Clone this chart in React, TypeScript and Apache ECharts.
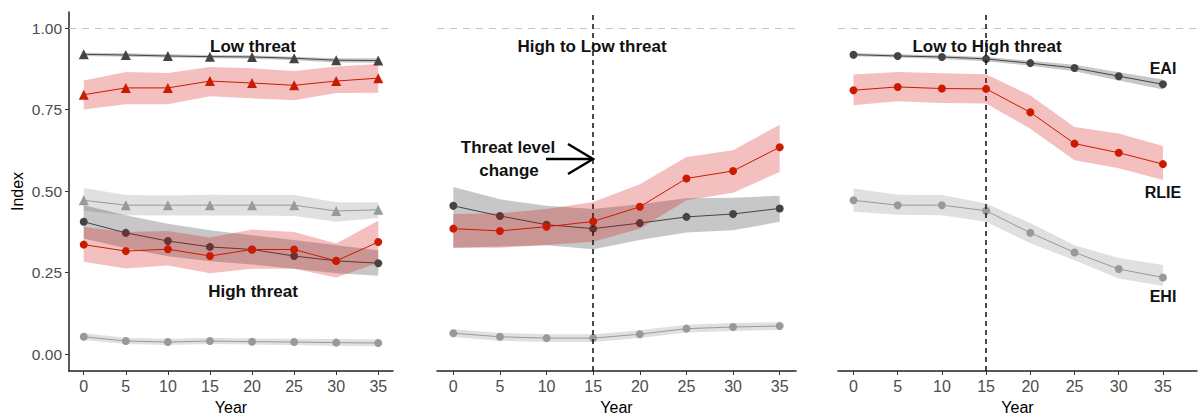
import React, { useEffect, useRef } from "react";
import * as echarts from "echarts";

const years = [0, 5, 10, 15, 20, 25, 30, 35];
const xTicks = [0, 5, 10, 15, 20, 25, 30, 35];
const yTicks = [0, 0.25, 0.5, 0.75, 1];

// Panel 1 – Low threat (triangles)
const lowEAI = [0.92, 0.918, 0.915, 0.913, 0.912, 0.908, 0.902, 0.901];
const lowEAILo = [0.915, 0.913, 0.91, 0.908, 0.907, 0.902, 0.895, 0.894];
const lowEAIHi = [0.925, 0.923, 0.92, 0.918, 0.917, 0.913, 0.908, 0.908];
const lowRLIE = [0.796, 0.817, 0.817, 0.838, 0.832, 0.825, 0.838, 0.847];
const lowRLIELo = [0.751, 0.767, 0.767, 0.791, 0.785, 0.779, 0.801, 0.802];
const lowRLIEHi = [0.84, 0.866, 0.863, 0.881, 0.877, 0.869, 0.883, 0.89];
const lowEHI = [0.472, 0.457, 0.457, 0.457, 0.457, 0.457, 0.439, 0.443];
const lowEHILo = [0.44, 0.426, 0.425, 0.425, 0.425, 0.424, 0.406, 0.418];
const lowEHIHi = [0.51, 0.488, 0.487, 0.489, 0.488, 0.488, 0.466, 0.465];

// Panel 1 – High threat (circles)
const highEAI = [0.406, 0.372, 0.347, 0.329, 0.321, 0.301, 0.286, 0.279];
const highEAILo = [0.355, 0.325, 0.3, 0.285, 0.275, 0.262, 0.248, 0.24];
const highEAIHi = [0.457, 0.426, 0.4, 0.38, 0.365, 0.35, 0.334, 0.319];
const highRLIE = [0.336, 0.316, 0.322, 0.301, 0.321, 0.321, 0.286, 0.344];
const highRLIELo = [0.283, 0.263, 0.272, 0.248, 0.262, 0.262, 0.235, 0.28];
const highRLIEHi = [0.39, 0.375, 0.378, 0.358, 0.382, 0.375, 0.339, 0.409];
const highEHI = [0.053, 0.04, 0.037, 0.04, 0.038, 0.037, 0.035, 0.034];
const highEHILo = [0.043, 0.031, 0.028, 0.031, 0.029, 0.028, 0.025, 0.024];
const highEHIHi = [0.064, 0.05, 0.047, 0.05, 0.048, 0.047, 0.046, 0.045];

// Panel 2 – High to Low threat
const h2lEAI = [0.455, 0.424, 0.397, 0.385, 0.402, 0.421, 0.43, 0.447];
const h2lEAILo = [0.326, 0.33, 0.334, 0.322, 0.35, 0.373, 0.38, 0.406];
const h2lEAIHi = [0.513, 0.475, 0.455, 0.445, 0.46, 0.478, 0.48, 0.486];
const h2lRLIE = [0.385, 0.378, 0.391, 0.407, 0.452, 0.539, 0.562, 0.635];
const h2lRLIELo = [0.326, 0.326, 0.335, 0.345, 0.385, 0.472, 0.495, 0.559];
const h2lRLIEHi = [0.43, 0.432, 0.445, 0.467, 0.521, 0.605, 0.626, 0.704];
const h2lEHI = [0.064, 0.053, 0.049, 0.049, 0.061, 0.078, 0.083, 0.086];
const h2lEHILo = [0.052, 0.041, 0.037, 0.037, 0.049, 0.066, 0.071, 0.074];
const h2lEHIHi = [0.076, 0.065, 0.061, 0.061, 0.073, 0.09, 0.095, 0.098];

// Panel 3 – Low to High threat
const l2hEAI = [0.919, 0.915, 0.912, 0.906, 0.893, 0.878, 0.853, 0.828];
const l2hEAILo = [0.914, 0.91, 0.906, 0.899, 0.885, 0.868, 0.84, 0.812];
const l2hEAIHi = [0.924, 0.92, 0.917, 0.912, 0.9, 0.888, 0.865, 0.843];
const l2hRLIE = [0.81, 0.82, 0.815, 0.814, 0.742, 0.646, 0.618, 0.583];
const l2hRLIELo = [0.764, 0.776, 0.771, 0.769, 0.692, 0.595, 0.57, 0.534];
const l2hRLIEHi = [0.858, 0.866, 0.862, 0.859, 0.794, 0.697, 0.677, 0.639];
const l2hEHI = [0.472, 0.457, 0.457, 0.44, 0.372, 0.312, 0.261, 0.235];
const l2hEHILo = [0.437, 0.428, 0.426, 0.406, 0.34, 0.288, 0.232, 0.209];
const l2hEHIHi = [0.508, 0.489, 0.488, 0.462, 0.402, 0.334, 0.295, 0.273];

const COL_EAI = "#444444";
const COL_RLIE = "#cc1a00";
const COL_EHI = "#999999";
const BAND_EAI = "#444444";
const BAND_RLIE = "#d40000";
const BAND_EHI = "#999999";
const FONT = '"Liberation Sans", Arial, Helvetica, sans-serif';

function band(idx: number, lo: number[], hi: number[], color: string, z: number, opacity = 0.3) {
  return {
    type: "custom",
    xAxisIndex: idx,
    yAxisIndex: idx,
    z,
    silent: true,
    data: years.map((y, i) => [y, lo[i], hi[i]]),
    encode: { x: 0, y: [1, 2] },
    renderItem: (params: any, api: any) => {
      if (params.dataIndex !== 0) return null;
      const pts: number[][] = [];
      for (let i = 0; i < years.length; i++) pts.push(api.coord([years[i], hi[i]]));
      for (let i = years.length - 1; i >= 0; i--) pts.push(api.coord([years[i], lo[i]]));
      return {
        type: "polygon",
        shape: { points: pts },
        style: { fill: color, opacity },
      };
    },
  };
}

function line(idx: number, vals: number[], color: string, symbol: string, z: number) {
  return {
    type: "line",
    xAxisIndex: idx,
    yAxisIndex: idx,
    z,
    silent: true,
    data: years.map((y, i) => [y, vals[i]]),
    symbol,
    symbolSize: symbol === "triangle" ? 10 : 8,
    lineStyle: { color, width: 1 },
    itemStyle: { color },
  };
}

function guides(idx: number, withVertical: boolean) {
  const data: any[] = [
    { yAxis: 1, lineStyle: { color: "#c4c4c4", type: [7, 6], width: 1 } },
  ];
  if (withVertical) {
    data.push({ xAxis: 15, lineStyle: { color: "#111", type: [5, 4], width: 1.5 } });
  }
  return {
    type: "line",
    xAxisIndex: idx,
    yAxisIndex: idx,
    data: [],
    z: 10,
    markLine: { silent: true, symbol: "none", label: { show: false }, data },
  };
}

function xAxisCfg(idx: number, max: number) {
  return {
    type: "value",
    gridIndex: idx,
    min: -1.75,
    max,
    name: "Year",
    nameLocation: "middle",
    nameGap: 28,
    nameTextStyle: { fontSize: 16, color: "#000", fontFamily: FONT },
    axisLine: { show: true, onZero: false, lineStyle: { color: "#222", width: 1.5 } },
    axisTick: { show: true, length: 4, customValues: xTicks, lineStyle: { color: "#333", width: 1 } },
    axisLabel: { customValues: xTicks, fontSize: 16, color: "#4d4d4d", margin: 7, fontFamily: FONT },
    splitLine: { show: false },
  };
}

function yAxisCfg(idx: number, visible: boolean) {
  return {
    type: "value",
    gridIndex: idx,
    min: -0.052,
    max: 1.05,
    show: visible,
    name: visible ? "Index" : "",
    nameLocation: "middle",
    nameGap: 44,
    nameTextStyle: { fontSize: 16, color: "#000", fontFamily: FONT },
    axisLine: { show: true, onZero: false, lineStyle: { color: "#222", width: 1.5 } },
    axisTick: { show: true, length: 4, customValues: yTicks, lineStyle: { color: "#333", width: 1 } },
    axisLabel: {
      customValues: yTicks,
      fontSize: 15.5,
      color: "#4d4d4d",
      margin: 7,
      fontFamily: FONT,
      formatter: (v: number) => v.toFixed(2),
    },
    splitLine: { show: false },
  };
}

function txt(text: string, x: number, y: number, size: number) {
  return {
    type: "text",
    x,
    y,
    z: 20,
    style: {
      text,
      fontSize: size,
      fontWeight: "bold",
      fontFamily: FONT,
      fill: "#111",
      align: "center",
      verticalAlign: "middle",
    },
  };
}

export default function App() {
  const ref = useRef<HTMLDivElement>(null);
  useEffect(() => {
    if (!ref.current) return;
    const chart = echarts.init(ref.current, null, { renderer: "svg" });
    chart.setOption({
      animation: false,
      backgroundColor: "#ffffff",
      grid: [
        { left: 69, top: 12, width: 324, height: 359, containLabel: false, outerBoundsMode: "none" },
        { left: 437, top: 12, width: 359, height: 359, containLabel: false, outerBoundsMode: "none" },
        { left: 838, top: 12, width: 359, height: 359, containLabel: false, outerBoundsMode: "none" },
      ],
      xAxis: [xAxisCfg(0, 36.75), xAxisCfg(1, 36.75), xAxisCfg(2, 38.85)],
      yAxis: [yAxisCfg(0, true), yAxisCfg(1, false), yAxisCfg(2, false)],
      series: [
        guides(0, false),
        guides(1, true),
        guides(2, true),
        // Panel 1 low threat
        band(0, lowEHILo, lowEHIHi, BAND_EHI, 1),
        line(0, lowEHI, COL_EHI, "triangle", 2),
        band(0, lowEAILo, lowEAIHi, BAND_EAI, 3),
        line(0, lowEAI, COL_EAI, "triangle", 4),
        band(0, lowRLIELo, lowRLIEHi, BAND_RLIE, 5, 0.25),
        line(0, lowRLIE, COL_RLIE, "triangle", 6),
        // Panel 1 high threat
        band(0, highEHILo, highEHIHi, BAND_EHI, 1),
        line(0, highEHI, COL_EHI, "circle", 2),
        band(0, highEAILo, highEAIHi, BAND_EAI, 3),
        line(0, highEAI, COL_EAI, "circle", 4),
        band(0, highRLIELo, highRLIEHi, BAND_RLIE, 5, 0.25),
        line(0, highRLIE, COL_RLIE, "circle", 6),
        // Panel 2
        band(1, h2lEHILo, h2lEHIHi, BAND_EHI, 1),
        line(1, h2lEHI, COL_EHI, "circle", 2),
        band(1, h2lEAILo, h2lEAIHi, BAND_EAI, 3),
        line(1, h2lEAI, COL_EAI, "circle", 4),
        band(1, h2lRLIELo, h2lRLIEHi, BAND_RLIE, 5, 0.25),
        line(1, h2lRLIE, COL_RLIE, "circle", 6),
        // Panel 3
        band(2, l2hEHILo, l2hEHIHi, BAND_EHI, 1),
        line(2, l2hEHI, COL_EHI, "circle", 2),
        band(2, l2hEAILo, l2hEAIHi, BAND_EAI, 3),
        line(2, l2hEAI, COL_EAI, "circle", 4),
        band(2, l2hRLIELo, l2hRLIEHi, BAND_RLIE, 5, 0.25),
        line(2, l2hRLIE, COL_RLIE, "circle", 6),
      ],
      graphic: [
        txt("Low threat", 253, 46, 17),
        txt("High threat", 253, 291, 17),
        txt("High to Low threat", 592, 46, 17),
        txt("Threat level", 508, 147, 17),
        txt("change", 509, 170, 17),
        txt("Low to High threat", 987, 46, 17),
        txt("EAI", 1163, 68, 16),
        txt("RLIE", 1163, 192, 16),
        txt("EHI", 1163, 296, 16),
        {
          type: "line",
          z: 20,
          shape: { x1: 546, y1: 159, x2: 592, y2: 159 },
          style: { stroke: "#000", lineWidth: 2.5 },
        },
        {
          type: "polyline",
          z: 20,
          shape: { points: [[568, 144], [593, 159], [568, 174]] },
          style: { stroke: "#000", lineWidth: 2.5, fill: null },
        },
      ],
    });
    return () => chart.dispose();
  }, []);
  return (
    <div
      ref={ref}
      style={{ position: "fixed", left: 0, top: 0, width: 1199, height: 414 }}
    />
  );
}
